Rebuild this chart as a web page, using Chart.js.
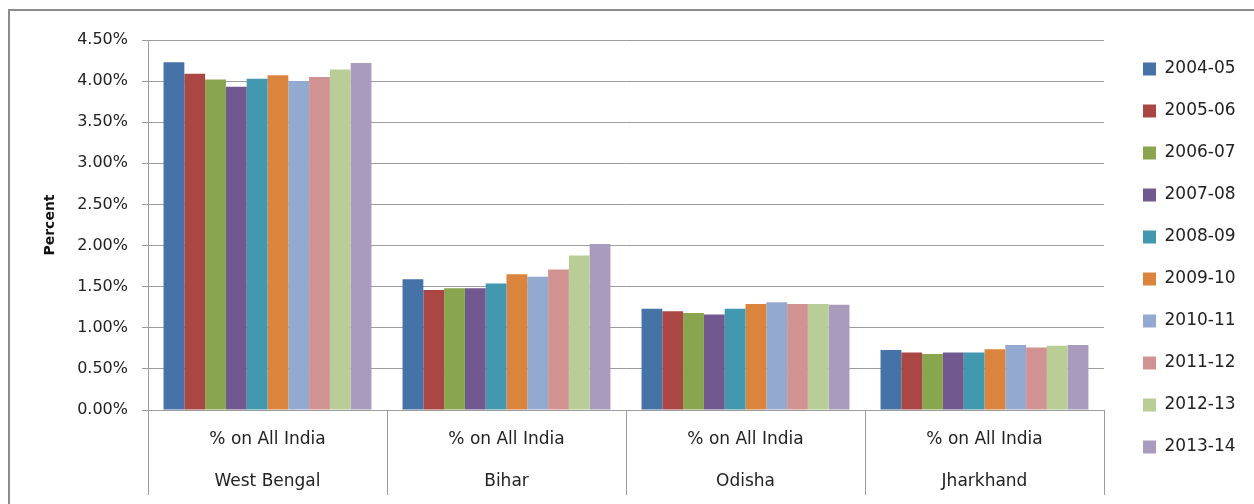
<!DOCTYPE html>
<html>
<head>
<meta charset="utf-8">
<script src="https://cdn.jsdelivr.net/npm/chart.js@4/dist/chart.umd.min.js"></script>
<style>
  body { margin: 0; background: #fff; overflow: hidden; }
  #wrap { position: relative; width: 1254px; height: 504px; }
  #frame { position: absolute; left: 8px; top: 9px; width: 1300px; height: 600px; border: 2px solid #8c8c8c; box-sizing: border-box; }
  #chart { position: absolute; left: 0; top: 0; }
</style>
</head>
<body>
<div id="wrap">
  <div id="frame"></div>
  <canvas id="chart" width="1254" height="504"></canvas>
</div>
<script>
// Categories and labels
const states = ['West Bengal', 'Bihar', 'Odisha', 'Jharkhand'];
const subLabel = '% on All India';
const years = ['2004-05', '2005-06', '2006-07', '2007-08', '2008-09', '2009-10', '2010-11', '2011-12', '2012-13', '2013-14'];
const yTicks = [0, 0.5, 1, 1.5, 2, 2.5, 3, 3.5, 4, 4.5];

// Share of All India (%) per year, in order of states
const v2004_05 = [4.23, 1.59, 1.23, 0.73];
const v2005_06 = [4.09, 1.46, 1.20, 0.70];
const v2006_07 = [4.02, 1.48, 1.18, 0.68];
const v2007_08 = [3.93, 1.48, 1.16, 0.70];
const v2008_09 = [4.03, 1.54, 1.23, 0.70];
const v2009_10 = [4.07, 1.65, 1.29, 0.74];
const v2010_11 = [4.00, 1.62, 1.31, 0.79];
const v2011_12 = [4.05, 1.71, 1.29, 0.76];
const v2012_13 = [4.14, 1.88, 1.29, 0.78];
const v2013_14 = [4.22, 2.02, 1.28, 0.79];

const colors = ['#4572A7', '#AA4643', '#89A54E', '#71588F', '#4198AF', '#DB843D', '#93A9CF', '#D19392', '#B9CD96', '#A99BBD'];
const allValues = [v2004_05, v2005_06, v2006_07, v2007_08, v2008_09, v2009_10, v2010_11, v2011_12, v2012_13, v2013_14];

const FONT = "'DejaVu Sans', sans-serif";
const GRID = '#9c9c9c';

const datasets = years.map((y, i) => ({
    label: y,
    data: allValues[i],
    backgroundColor: colors[i],
    borderWidth: 0,
    categoryPercentage: 0.87,
    barPercentage: 1.0
}));

new Chart(document.getElementById('chart'), {
    type: 'bar',
    data: {
        labels: states.map(s => [subLabel, s]),
        datasets: datasets
    },
    options: {
        responsive: false,
        animation: false,
        layout: { padding: { top: 12, right: 9, bottom: 0, left: 0 } },
        plugins: {
            tooltip: { enabled: false },
            legend: {
                position: 'right',
                align: 'center',
                maxWidth: 127,
                labels: {
                    boxWidth: 13,
                    boxHeight: 13,
                    padding: 25,
                    color: '#222',
                    font: { family: FONT, size: 17 }
                }
            }
        },
        scales: {
            x: {
                grid: {
                    display: true,
                    drawOnChartArea: false,
                    drawTicks: true,
                    tickLength: 85,
                    color: GRID,
                    offset: true
                },
                border: { display: true, color: GRID },
                ticks: {
                    color: '#222',
                    padding: -77,
                    maxRotation: 0,
                    autoSkip: false,
                    font: { family: FONT, size: 17, lineHeight: 2.5 }
                },
                afterFit: (s) => { s.height = 94; s.paddingLeft = 0; s.paddingRight = 0; }
            },
            y: {
                min: 0,
                max: 4.5,
                afterBuildTicks: (s) => { s.ticks = yTicks.map(v => ({ value: v })); },
                grid: { color: GRID, tickLength: 6 },
                border: { display: true, color: GRID },
                ticks: {
                    color: '#222',
                    padding: 14,
                    font: { family: FONT, size: 16 },
                    callback: (v) => v.toFixed(2) + '%'
                },
                title: {
                    display: true,
                    text: 'Percent',
                    color: '#111',
                    padding: { top: 42, bottom: 0 },
                    font: { family: FONT, size: 14, weight: 'bold' }
                },
                afterFit: (s) => { s.width = 148; s.paddingTop = 40; s.paddingBottom = 0; }
            },
            gap: {
                type: 'linear',
                position: 'right',
                display: true,
                grid: { display: false },
                border: { display: false },
                ticks: { display: false },
                afterFit: (s) => { s.width = 14; s.paddingTop = 0; s.paddingBottom = 0; }
            }
        }
    }
});
</script>
</body>
</html>
